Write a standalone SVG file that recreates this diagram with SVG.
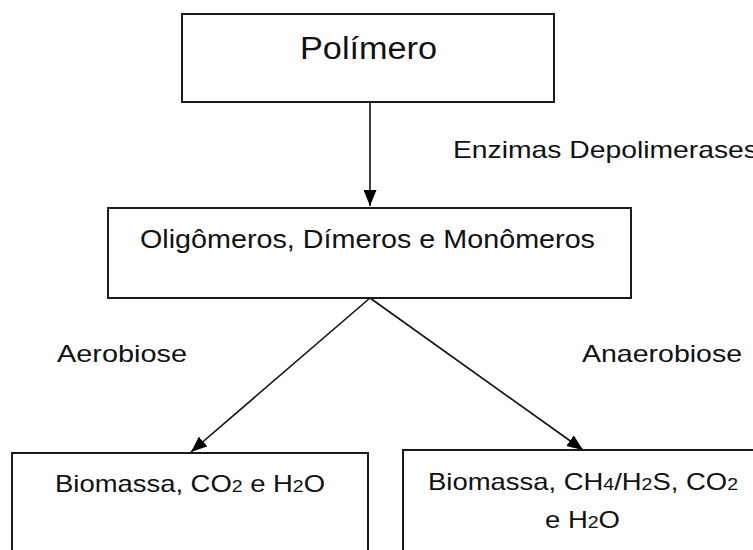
<svg xmlns="http://www.w3.org/2000/svg" width="753" height="550" viewBox="0 0 753 550">
  <defs>
    <marker id="arrow" viewBox="0 0 16 13" refX="16" refY="6.5" markerWidth="16" markerHeight="13" markerUnits="userSpaceOnUse" orient="auto">
      <path d="M0,0 L16,6.5 L0,13 Z" fill="#000"/>
    </marker>
    <style>
      .box { fill: #fff; stroke: #1a1a1a; stroke-width: 2; }
      .lbl { font-family: "Liberation Sans", Arial, sans-serif; fill: #111; }
      .edge { stroke: #111; stroke-width: 1.6; fill: none; marker-end: url(#arrow); }
      .sub { font-size: 17px; }
    </style>
  </defs>
  <rect width="753" height="550" fill="#fff"/>

  <g id="connectors">
    <line class="edge" x1="370" y1="102" x2="370" y2="206"/>
    <line class="edge" x1="370" y1="298" x2="191" y2="452"/>
    <line class="edge" x1="370" y1="298" x2="583" y2="450"/>
  </g>

  <g id="polimero">
    <rect class="box" x="182" y="14" width="372" height="88"/>
    <text class="lbl" x="300" y="59" font-size="31" textLength="137" lengthAdjust="spacingAndGlyphs">Polímero</text>
  </g>

  <g id="oligomeros">
    <rect class="box" x="108" y="208" width="523" height="90"/>
    <text class="lbl" x="140" y="248" font-size="26" textLength="455" lengthAdjust="spacingAndGlyphs">Oligômeros, Dímeros e Monômeros</text>
  </g>

  <g id="aerobiose-produtos">
    <rect class="box" x="12" y="453" width="356" height="110"/>
    <text class="lbl" x="55" y="492" font-size="24" textLength="270" lengthAdjust="spacingAndGlyphs">Biomassa, CO<tspan class="sub">2</tspan> e H<tspan class="sub">2</tspan>O</text>
  </g>

  <g id="anaerobiose-produtos">
    <rect class="box" x="403" y="450" width="360" height="110"/>
    <text class="lbl" x="428" y="490" font-size="24" textLength="310" lengthAdjust="spacingAndGlyphs">Biomassa, CH<tspan class="sub">4</tspan>/H<tspan class="sub">2</tspan>S, CO<tspan class="sub">2</tspan></text>
    <text class="lbl" x="545" y="528" font-size="24" textLength="75" lengthAdjust="spacingAndGlyphs">e H<tspan class="sub">2</tspan>O</text>
  </g>

  <g id="labels">
    <text class="lbl" x="453" y="158" font-size="24" textLength="305" lengthAdjust="spacingAndGlyphs">Enzimas Depolimerases</text>
    <text class="lbl" x="57" y="362" font-size="24" textLength="130" lengthAdjust="spacingAndGlyphs">Aerobiose</text>
    <text class="lbl" x="582" y="362" font-size="24" textLength="160" lengthAdjust="spacingAndGlyphs">Anaerobiose</text>
  </g>
</svg>
